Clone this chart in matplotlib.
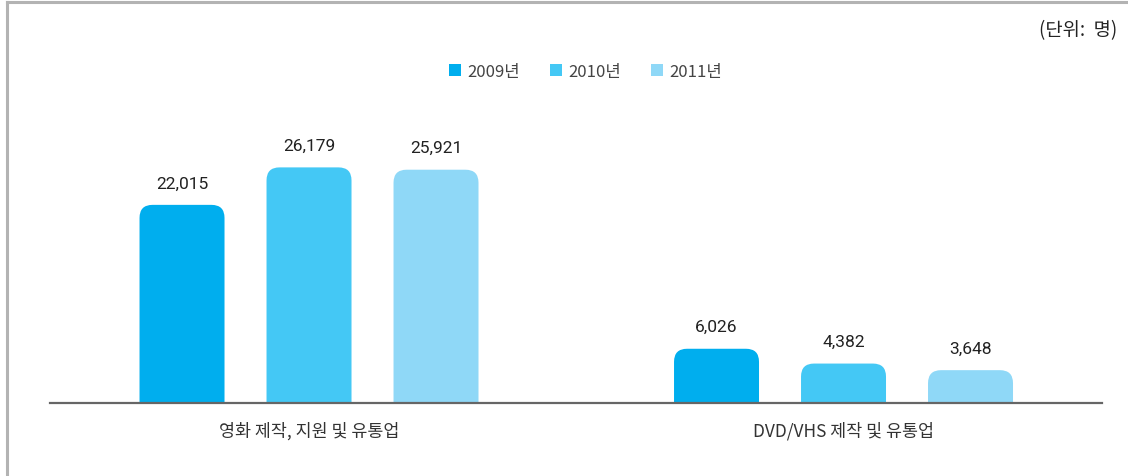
import matplotlib
matplotlib.use("Agg")
import matplotlib.pyplot as plt
from matplotlib.patches import FancyBboxPatch, Rectangle
from matplotlib.lines import Line2D
import numpy as np

plt.rcParams['font.family'] = ['Noto Sans CJK KR', 'DejaVu Sans']

categories = ["영화 제작, 지원 및 유통업", "DVD/VHS 제작 및 유통업"]
years = ["2009년", "2010년", "2011년"]
values_2009 = [22015, 6026]
values_2010 = [26179, 4382]
values_2011 = [25921, 3648]
series = [values_2009, values_2010, values_2011]
colors = ["#00AEEE", "#44C8F5", "#8FD8F7"]
unit_label = "(단위:  명)"

W, H = 1128, 477
fig = plt.figure(figsize=(W / 100, H / 100), dpi=100)
ax = fig.add_axes([50 / W, (H - 404) / H, (1102 - 50) / W, (404 - 100) / H])

x = np.arange(len(categories))
offset = 0.2376
width = 0.159
ymax = (404 - 100) / 0.00900
ax.set_xlim(-0.4846, 1.4836)
ax.set_ylim(0, ymax)

# pixel scales
px_per_x = ax.get_position().width * W / (1.4836 + 0.4846)
px_per_y = ax.get_position().height * H / ymax
aspect = px_per_x / px_per_y
r_px = 13
r_x = r_px / px_per_x

for i, (vals, col) in enumerate(zip(series, colors)):
    pos = x + (i - 1) * offset
    bars = ax.bar(pos, vals, width=width, color=col, alpha=0)
    for b, v in zip(bars, vals):
        bx, bw, bh = b.get_x(), b.get_width(), b.get_height()
        extra = r_px * 2 / px_per_y
        p = FancyBboxPatch((bx, -extra), bw, bh + extra,
                           boxstyle=f"round,pad=0,rounding_size={r_x}",
                           mutation_aspect=aspect, facecolor=col,
                           edgecolor='none', clip_on=True)
        ax.add_patch(p)
        ax.text(b.get_x() + bw / 2, bh + 22 / px_per_y, f"{v:,}",
                ha='center', va='center', fontsize=12.5, color='#222222',
                family=['Roboto', 'DejaVu Sans'])

for s in ax.spines.values():
    s.set_visible(False)
ax.axhline(0, color='#666666', lw=1.6, zorder=5, clip_on=False)
ax.set_yticks([])
ax.set_xticks(x)
ax.set_xticklabels(categories, fontsize=12.5, color='#333333')
ax.tick_params(axis='x', length=0, pad=13)

# legend
handles = [Rectangle((0, 0), 1, 1, facecolor=c, edgecolor='none') for c in colors]
leg = fig.legend(handles, years, loc='center', bbox_to_anchor=(586 / W, 1 - 72 / H),
                 ncol=3, frameon=False, fontsize=12, handlelength=0.7, handleheight=0.7,
                 handletextpad=0.4, columnspacing=1.8)
for t in leg.get_texts():
    t.set_color('#444444')

fig.text(1117 / W, 1 - 31 / H, unit_label, ha='right', va='center', fontsize=13.5, color='#222222')

# outer frame lines
fig.add_artist(Line2D([7 / W, 1], [1 - 3 / H, 1 - 3 / H], color='#b3b3b3', lw=2.2))
fig.add_artist(Line2D([7 / W, 7 / W], [0, 1 - 3 / H], color='#b3b3b3', lw=2.2))

fig.savefig("out.png", dpi=100)
